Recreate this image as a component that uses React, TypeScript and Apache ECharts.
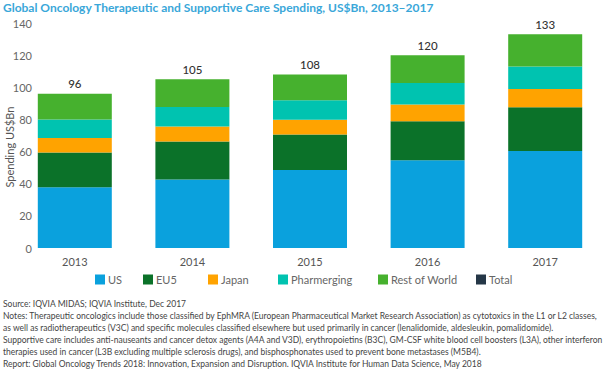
import React, { useEffect, useRef } from "react";
import * as echarts from "echarts";

const years = ["2013", "2014", "2015", "2016", "2017"];
const us = [37.8, 42.7, 48.6, 54.6, 60.4];
const eu5 = [21.7, 23.5, 22.1, 24.2, 27.2];
const japan = [9.0, 9.4, 9.1, 10.5, 11.4];
const pharmerging = [11.4, 12.2, 12.2, 13.3, 14.0];
const restOfWorld = [16.1, 17.2, 16.0, 17.4, 20.0];
const totals = [96, 105, 108, 120, 133];
const yTicks = [0, 20, 40, 60, 80, 100, 120, 140];

const titleText = "Global Oncology Therapeutic and Supportive Care Spending, US$Bn, 2013\u20132017";
const noteLines = [
  "Source: IQVIA MIDAS; IQVIA Institute, Dec 2017",
  "Notes: Therapeutic oncologics include those classified by EphMRA (European Pharmaceutical Market Research Association) as cytotoxics in the L1 or L2 classes,",
  "as well as radiotherapeutics (V3C) and specific molecules classified elsewhere but used primarily in cancer (lenalidomide, aldesleukin, pomalidomide).",
  "Supportive care includes anti-nauseants and cancer detox agents (A4A and V3D), erythropoietins (B3C), GM-CSF white blood cell boosters (L3A), other interferon",
  "therapies used in cancer (L3B excluding multiple sclerosis drugs), and bisphosphonates used to prevent bone metastases (M5B4).",
  "Report: Global Oncology Trends 2018: Innovation, Expansion and Disruption. IQVIA Institute for Human Data Science, May 2018",
];

const colors: Record<string, string> = {
  US: "#0aa1dd",
  EU5: "#0b7229",
  Japan: "#ffa300",
  Pharmerging: "#00c3b0",
  "Rest of World": "#46b12e",
  Total: "#253747",
};
const legendLeft: Record<string, number> = {
  US: 95,
  EU5: 143,
  Japan: 208,
  Pharmerging: 278,
  "Rest of World": 378,
  Total: 476,
};

export default function App() {
  const ref = useRef<HTMLDivElement>(null);
  useEffect(() => {
    if (!ref.current) return;
    const chart = echarts.init(ref.current, null, { renderer: "svg" });
    const font = "Lato, 'Open Sans', sans-serif";
    const stackSeries = [
      ["US", us],
      ["EU5", eu5],
      ["Japan", japan],
      ["Pharmerging", pharmerging],
      ["Rest of World", restOfWorld],
    ].map(([name, data]) => ({
      name: name as string,
      type: "bar",
      stack: "spend",
      barWidth: 74,
      data: data as number[],
      itemStyle: { color: colors[name as string] },
    }));
    const names = ["US", "EU5", "Japan", "Pharmerging", "Rest of World", "Total"];
    const legends = names.map((n) => ({
      left: legendLeft[n],
      top: 274,
      itemWidth: 10,
      itemHeight: 10,
      itemGap: 0,
      icon: "rect",
      textStyle: { fontFamily: font, fontSize: 11, color: "#666", padding: [0, 0, 0, -2] },
      padding: 0,
      selectedMode: false,
      data: [{ name: n, itemStyle: { color: colors[n] } }],
    }));
    chart.setOption({
      animation: false,
      textStyle: { fontFamily: font },
      grid: { left: 16, width: 600, top: 23, height: 225 },
      legend: legends,
      xAxis: {
        type: "category",
        data: years,
        axisLine: { show: false },
        axisTick: { show: false },
        axisLabel: { color: "#555", fontSize: 11, margin: 8, fontFamily: font },
      },
      yAxis: {
        type: "value",
        min: 0,
        max: 140,
        interval: 20,
        offset: -16,
        splitLine: { show: false },
        axisLine: { show: false },
        axisTick: { show: false },
        axisLabel: {
          color: "#666",
          fontSize: 11,
          margin: 0,
          fontFamily: font,
          formatter: (v: number) => (yTicks.includes(v) ? String(v) : ""),
        },
      },
      series: [
        ...stackSeries,
        {
          name: "Total",
          type: "bar",
          barWidth: 74,
          barGap: "-100%",
          data: totals,
          z: 1,
          itemStyle: { color: "rgba(0,0,0,0)" },
          label: {
            show: true,
            position: "top",
            distance: 4,
            color: "#333",
            fontSize: 11.5,
            fontWeight: 500,
            fontFamily: font,
          },
        },
      ],
      graphic: [
        {
          type: "text",
          left: 3,
          top: 1,
          style: {
            text: titleText,
            fill: "#3aa7d9",
            font: `bold 12px ${font}`,
          },
        },
        {
          type: "text",
          x: 4,
          y: 147,
          rotation: Math.PI / 2,
          style: {
            text: "Spending US$Bn",
            fill: "#555",
            font: `11px ${font}`,
            align: "center",
            verticalAlign: "top",
          },
        },
        ...noteLines.map((t, i) => ({
          type: "text",
          left: 3,
          top: 299 + i * 12,
          style: { text: t, fill: "#444", font: `8.5px ${font}` },
        })),
      ],
    });
    return () => chart.dispose();
  }, []);
  return <div ref={ref} style={{ width: 604, height: 373, position: "absolute", left: 0, top: 0 }} />;
}
